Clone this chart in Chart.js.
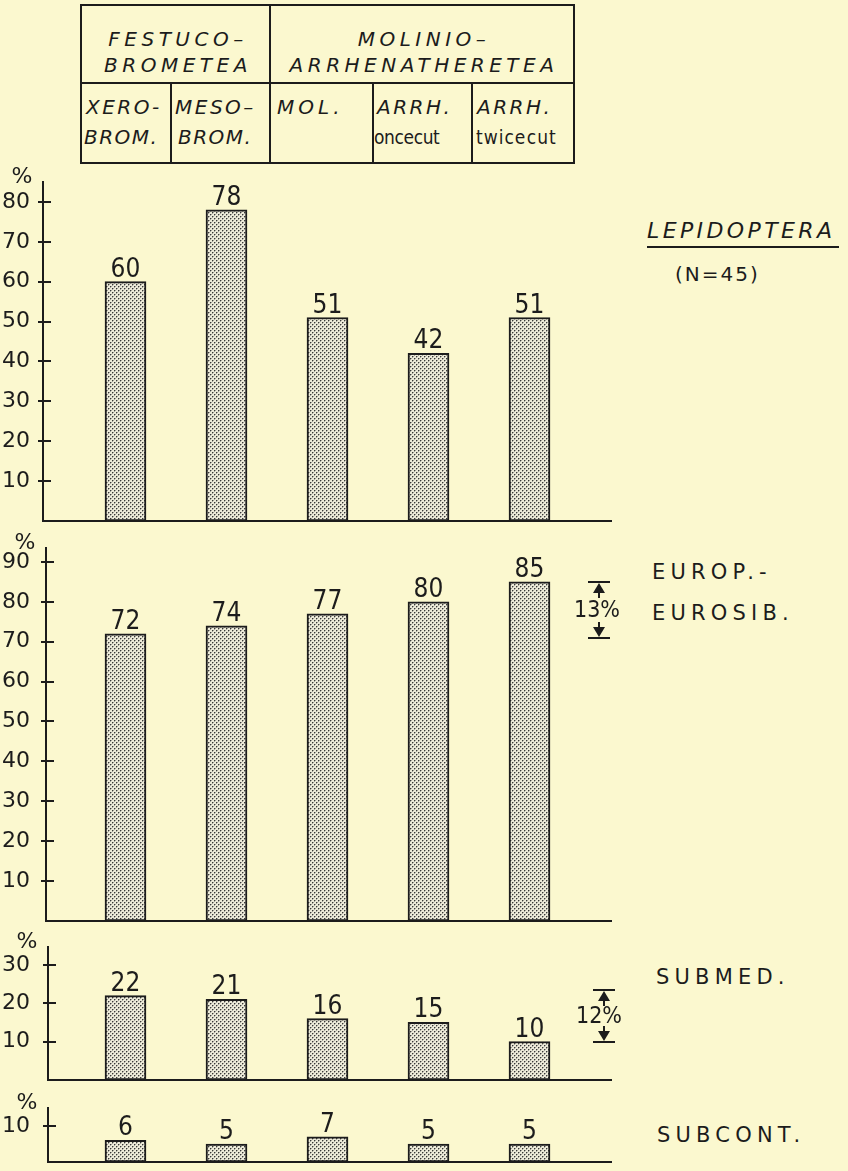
<!DOCTYPE html>
<html><head><meta charset="utf-8">
<script src="https://cdn.jsdelivr.net/npm/chart.js@4/dist/chart.umd.min.js"></script>
<style>
html,body{margin:0;padding:0;background:#fbf8cf;}
#wrap{position:relative;width:848px;height:1171px;overflow:hidden;background:#fbf8cf;font-family:"DejaVu Sans",sans-serif;color:#1c1c1c;}
.t{position:absolute;white-space:nowrap;line-height:1;}
.ln{position:absolute;background:#1c1c1c;}
.it{font-style:italic;}
.cond{font-family:"DejaVu Sans Condensed","DejaVu Sans",sans-serif;font-stretch:condensed;}
</style></head>
<body><div id="wrap">
<!-- header table -->
<div class="ln" style="left:80px;top:4px;width:495px;height:2px"></div>
<div class="ln" style="left:80px;top:162px;width:495px;height:2px"></div>
<div class="ln" style="left:80px;top:4px;width:2px;height:160px"></div>
<div class="ln" style="left:573px;top:4px;width:2px;height:160px"></div>
<div class="ln" style="left:80px;top:82px;width:495px;height:2px"></div>
<div class="ln" style="left:269px;top:4px;width:2px;height:160px"></div>
<div class="ln" style="left:170px;top:82px;width:2px;height:82px"></div>
<div class="ln" style="left:372px;top:82px;width:2px;height:82px"></div>
<div class="ln" style="left:471px;top:82px;width:2px;height:82px"></div>
<div class="t it" style="left:86px;width:184px;text-align:center;top:29px;font-size:20px;letter-spacing:4.5px">FESTUCO–</div>
<div class="t it" style="left:86px;width:184px;text-align:center;top:55px;font-size:20px;letter-spacing:4.5px">BROMETEA</div>
<div class="t it" style="left:274px;width:300px;text-align:center;top:29px;font-size:20px;letter-spacing:4.5px">MOLINIO–</div>
<div class="t it" style="left:274px;width:300px;text-align:center;top:55px;font-size:20px;letter-spacing:4.5px">ARRHENATHERETEA</div>
<div class="t it" style="left:86px;top:97px;font-size:20px;letter-spacing:2.5px">XERO-</div>
<div class="t it" style="left:84px;top:127px;font-size:20px;letter-spacing:1.5px">BROM.</div>
<div class="t it" style="left:175px;top:97px;font-size:20px;letter-spacing:2.5px">MESO–</div>
<div class="t it" style="left:178px;top:127px;font-size:20px;letter-spacing:1.5px">BROM.</div>
<div class="t it" style="left:277px;top:97px;font-size:20px;letter-spacing:4px">MOL.</div>
<div class="t it" style="left:377px;top:97px;font-size:20px;letter-spacing:2.5px">ARRH.</div>
<div class="t cond" style="left:374px;top:128px;font-size:19px;letter-spacing:-0.4px;word-spacing:-5px">once cut</div>
<div class="t it" style="left:477px;top:97px;font-size:20px;letter-spacing:2.5px">ARRH.</div>
<div class="t cond" style="left:476px;top:128px;font-size:19px;letter-spacing:1px;word-spacing:-6px">twice cut</div>
<!-- right-hand labels -->
<div class="t it" style="left:647px;top:220px;font-size:22px;letter-spacing:3.4px">LEPIDOPTERA</div>
<div class="ln" style="left:647px;top:246px;width:192px;height:2px"></div>
<div class="t" style="left:675px;top:264px;font-size:20px;letter-spacing:2px">(N=45)</div>
<div class="t" style="left:652px;top:562px;font-size:21px;letter-spacing:5.2px">EUROP.-</div>
<div class="t" style="left:652px;top:603px;font-size:21px;letter-spacing:5.2px">EUROSIB.</div>
<div class="t" style="left:656px;top:967px;font-size:21px;letter-spacing:5.2px">SUBMED.</div>
<div class="t" style="left:657px;top:1125px;font-size:21px;letter-spacing:5.2px">SUBCONT.</div>
</div>
<script>
// ---- data ----
const categories = ['XERO-BROM.', 'MESO-BROM.', 'MOL.', 'ARRH. once cut', 'ARRH. twice cut'];
const lepidoptera = [60, 78, 51, 42, 51];
const europEurosib = [72, 74, 77, 80, 85];
const submed = [22, 21, 16, 15, 10];
const subcont = [6, 5, 7, 5, 5];
const ticksLepidoptera = [10, 20, 30, 40, 50, 60, 70, 80];
const ticksEurop = [10, 20, 30, 40, 50, 60, 70, 80, 90];
const ticksSubmed = [10, 20, 30];
const ticksSubcont = [10];
const spreadEurop = [85, 71];
const spreadEuropLabel = '13%';
const spreadSubmed = [23.5, 10];
const spreadSubmedLabel = '12%';

// ---- layout (pixels) ----
const INK = '#1c1c1c';
const X0 = 125.5, DX = 101, RIGHT = 611;
const panels = [
  {values: lepidoptera, ticks: ticksLepidoptera, top: 182, base: 523, axisX: 43, max: 85},
  {values: europEurosib, ticks: ticksEurop, top: 548, base: 926, axisX: 46, max: 93.5,
   spread: spreadEurop, spreadLabel: spreadEuropLabel, arrowX: 599, textX: 597},
  {values: submed, ticks: ticksSubmed, top: 947, base: 1087, axisX: 48, max: 34.7,
   spread: spreadSubmed, spreadLabel: spreadSubmedLabel, arrowX: 604, textX: 599},
  {values: subcont, ticks: ticksSubcont, top: 1108, base: 1169, axisX: 48, max: 15.1}
];

const tile = document.createElement('canvas');
tile.width = 4; tile.height = 4;
(function(){
  const g = tile.getContext('2d');
  g.fillStyle = '#ecead8'; g.fillRect(0, 0, 4, 4);
  g.fillStyle = '#a3a29a';
  g.fillRect(1, 0, 1, 1); g.fillRect(0, 1, 1, 1);
  g.fillRect(3, 2, 1, 1); g.fillRect(2, 3, 1, 1);
  g.fillStyle = '#3a3a38';
  g.fillRect(0, 0, 1, 1); g.fillRect(2, 2, 1, 1);
})();

const FAM = '"DejaVu Sans", sans-serif';
const wrap = document.getElementById('wrap');

function line(ctx, x1, y1, x2, y2) { ctx.beginPath(); ctx.moveTo(x1, y1); ctx.lineTo(x2, y2); ctx.stroke(); }

panels.forEach(p => {
  const padTop = 34, padBot = 16;
  const H = p.base - p.top + padTop + padBot;
  const cv = document.createElement('canvas');
  cv.width = 848; cv.height = H;
  cv.style.cssText = `position:absolute;left:0;top:${p.top - padTop}px;width:848px;height:${H}px`;
  wrap.appendChild(cv);
  const pat = cv.getContext('2d').createPattern(tile, 'repeat');
  const xmin = 1 - (X0 - p.axisX) / DX;
  const xmax = categories.length + (RIGHT - (X0 + (categories.length - 1) * DX)) / DX;

  const decor = {
    id: 'decor',
    afterDraw(chart) {
      const ctx = chart.ctx, ys = chart.scales.y, ca = chart.chartArea;
      ctx.save();
      ctx.strokeStyle = INK; ctx.fillStyle = INK; ctx.lineWidth = 2;
      p.ticks.forEach(v => { const y = Math.round(ys.getPixelForValue(v)); line(ctx, ca.left - 5, y, ca.left + 8, y); });
      ctx.font = '22px ' + FAM; ctx.textAlign = 'center'; ctx.textBaseline = 'alphabetic';
      ctx.fillText('%', ca.left - 21, ca.top + 1);
      // value labels
      ctx.font = '26px "DejaVu Sans Condensed", ' + FAM;
      try { ctx.fontStretch = 'condensed'; } catch (e) {}
      const meta = chart.getDatasetMeta(0);
      meta.data.forEach((bar, i) => { ctx.fillText(String(p.values[i]), bar.x, bar.y - 5); });
      if (p.spread) {
        const cx = p.arrowX;
        const yh = Math.round(ys.getPixelForValue(p.spread[0]));
        const yl = Math.round(ys.getPixelForValue(p.spread[1]));
        line(ctx, cx - 11, yh, cx + 11, yh);
        ctx.beginPath(); ctx.moveTo(cx, yh + 1); ctx.lineTo(cx - 6, yh + 11); ctx.lineTo(cx + 6, yh + 11); ctx.closePath(); ctx.fill();
        line(ctx, cx, yh + 10, cx, yh + 16);
        line(ctx, cx - 11, yl, cx + 11, yl);
        ctx.beginPath(); ctx.moveTo(cx, yl - 1); ctx.lineTo(cx - 6, yl - 11); ctx.lineTo(cx + 6, yl - 11); ctx.closePath(); ctx.fill();
        line(ctx, cx, yl - 10, cx, yl - 16);
        ctx.font = '23px "DejaVu Sans Condensed", ' + FAM;
        ctx.textBaseline = 'middle';
        ctx.fillText(p.spreadLabel, p.textX, (yh + yl) / 2 + 1);
      }
      ctx.restore();
    }
  };

  new Chart(cv, {
    type: 'bar',
    data: {
      datasets: [{
        data: p.values.map((v, i) => ({x: i + 1, y: v})),
        backgroundColor: pat,
        borderColor: INK,
        borderWidth: 2,
        borderSkipped: false,
        barThickness: 41
      }]
    },
    options: {
      responsive: false,
      animation: false,
      events: [],
      layout: {padding: {left: 0, right: 848 - RIGHT, top: padTop, bottom: padBot}},
      plugins: {legend: {display: false}, tooltip: {enabled: false}},
      scales: {
        x: {
          type: 'linear', min: xmin, max: xmax, offset: false,
          grid: {display: false}, ticks: {display: false},
          border: {display: true, color: INK, width: 2},
          afterFit(s) { s.height = 0; }
        },
        y: {
          type: 'linear', min: 0, max: p.max,
          grid: {display: false},
          border: {display: true, color: INK, width: 2},
          ticks: {
            stepSize: 10, includeBounds: false, padding: p.axisX - 38,
            color: INK, font: {family: FAM, size: 22},
            callback: v => p.ticks.includes(v) ? String(v) : ''
          },
          afterFit(s) { s.width = p.axisX; }
        }
      }
    },
    plugins: [decor]
  });
});
</script>
</body></html>
